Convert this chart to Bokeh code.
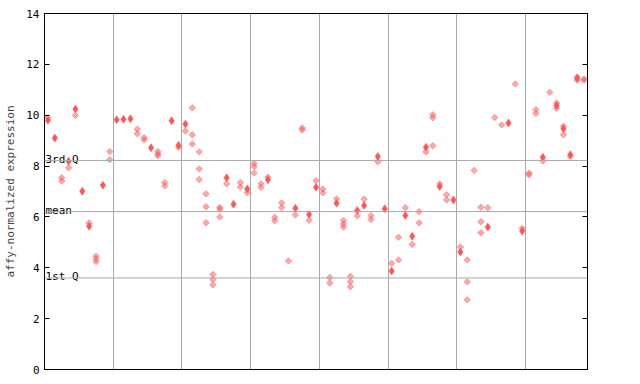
import numpy as np
from bokeh.plotting import figure
from bokeh.models import Range1d, FixedTicker, LinearAxis, Span, ColumnDataSource
from bokeh.core.properties import value
from bokeh.embed import file_html
from bokeh.resources import INLINE

# ---- data (column index, expression value) ----
solid_col = [0, 1, 3, 4, 5, 6, 8, 10, 11, 12, 15, 18, 19, 20, 26, 27, 29, 32, 36, 38,
             39, 42, 45, 46, 48, 49, 50, 52, 53, 55, 57, 59, 60, 64, 67, 69, 72, 74, 75, 76, 77]
solid_val = [9.80, 9.10, 8.19, 10.24, 7.01, 5.63, 7.25, 9.82, 9.84, 9.86, 8.72, 9.78, 8.82, 9.65,
             7.54, 6.50, 7.10, 7.46, 6.34, 6.10, 7.17, 6.54, 6.25, 6.45, 8.38, 6.32, 3.87, 6.06,
             5.24, 8.74, 7.20, 6.67, 4.62, 5.60, 9.69, 5.45, 8.35, 10.38, 9.47, 8.45, 11.45]

light_col = [0, 2, 2, 3, 4, 6, 7, 7, 7, 9, 9, 13, 13, 14, 14, 16, 16, 16, 17, 17, 19, 20,
             21, 21, 21, 22, 22, 22, 23, 23, 23, 24, 24, 24, 25, 25, 25, 26, 28, 28, 29,
             30, 30, 30, 31, 31, 32, 33, 33, 34, 34, 35, 36, 37, 37, 38, 39, 40, 40, 41, 41,
             42, 43, 43, 43, 44, 44, 44, 45, 46, 47, 47, 48, 50, 51, 51, 52, 53, 54, 54, 55,
             56, 56, 56, 57, 58, 58, 60, 61, 61, 61, 62, 63, 63, 63, 64, 65, 66, 68, 69, 70, 70,
             71, 71, 72, 73, 74, 74, 75, 75, 76, 77, 77, 78, 78]
light_val = [9.90, 7.54, 7.41, 7.93, 9.99, 5.76, 4.46, 4.35, 4.24, 8.57, 8.25, 9.45, 9.27, 9.12, 9.03,
             8.57, 8.48, 8.40, 7.35, 7.22, 8.74, 9.38,
             10.29, 9.23, 8.87, 8.56, 7.89, 7.47, 6.91, 6.40, 5.77, 3.74, 3.54, 3.33, 6.37, 6.30, 6.00,
             7.30, 7.35, 7.18, 6.95,
             8.10, 7.98, 7.73, 7.30, 7.16, 7.56, 5.98, 5.85, 6.55, 6.37, 4.27, 6.08, 9.50, 9.42, 5.87,
             7.43, 7.10, 6.95, 3.62, 3.40,
             6.71, 5.86, 5.72, 5.60, 3.66, 3.45, 3.25, 6.04, 6.70, 6.05, 5.90, 8.17, 4.18, 5.20, 4.31,
             6.36, 4.92, 6.21, 5.77, 8.56,
             10.02, 9.90, 8.80, 7.30, 6.87, 6.67, 4.82, 4.31, 3.45, 2.74, 7.83, 6.38, 5.81, 5.38, 6.36,
             9.91, 9.62, 11.23, 5.55, 7.73, 7.65,
             10.22, 10.07, 8.20, 10.90, 10.48, 10.27, 9.57, 9.23, 8.38, 11.50, 11.38, 11.42, 11.38]

n_columns = 79
group_lines = [10, 20, 30, 40, 50, 60, 70]
y_ticks = [0, 2, 4, 6, 8, 10, 12, 14]
q3_val, mean_val, q1_val = 8.22, 6.21, 3.60
ref_labels = ["3rd Q", "mean", "1st Q"]

RED = "#ff5555"
FONT = "DejaVu Sans Mono"

p = figure(width=640, height=384, output_backend="svg", toolbar_location=None,
           x_range=Range1d(0, n_columns), y_range=Range1d(0, 14),
           min_border_left=44, min_border_right=53, min_border_top=13, min_border_bottom=15,
           background_fill_color="white", border_fill_color="white")
p.outline_line_color = "black"
p.outline_line_width = 1

p.xaxis.visible = False
p.xgrid.ticker = FixedTicker(ticks=group_lines)
p.xgrid.grid_line_color = "#aaaaaa"
p.xgrid.grid_line_width = 1
p.ygrid.visible = False

ya = p.yaxis[0]
ya.ticker = FixedTicker(ticks=y_ticks)
ya.major_tick_in = 5
ya.major_tick_out = 0
ya.minor_tick_line_color = None
ya.axis_line_color = "black"
ya.major_label_text_font = FONT
ya.major_label_text_font_size = "11px"
ya.major_label_text_color = "black"
ya.axis_label = "affy-normalized expression"
ya.axis_label_text_font = FONT
ya.axis_label_text_font_size = "11px"
ya.axis_label_text_font_style = "normal"
ya.axis_label_standoff = 6

ra = LinearAxis(ticker=FixedTicker(ticks=y_ticks), major_tick_in=5, major_tick_out=0,
                minor_tick_line_color=None, major_label_text_alpha=0,
                major_label_text_font_size="1px", axis_line_color="black")
p.add_layout(ra, "right")

for v in (q3_val, mean_val, q1_val):
    p.add_layout(Span(location=v, dimension="width", line_color="#aaaaaa", line_width=1))

p.text(x=[0, 0, 0], y=[q3_val, mean_val, q1_val], text=ref_labels, x_offset=1, y_offset=-1,
       text_font=value(FONT), text_font_size="11px", text_color="black",
       text_baseline="alphabetic", text_align="left")

lx = np.array(light_col) + 0.5
sx = np.array(solid_col) + 0.5
p.scatter(x=lx, y=light_val, marker="square", angle=np.pi / 4, size=4.5,
          fill_color=RED, fill_alpha=0.5, line_color=RED, line_alpha=0.6, line_width=0.8)
p.scatter(x=sx, y=solid_val, marker="diamond", size=8,
          fill_color=RED, line_color=RED, line_width=0.5)

open("out.html", "w").write(file_html(p, INLINE))
